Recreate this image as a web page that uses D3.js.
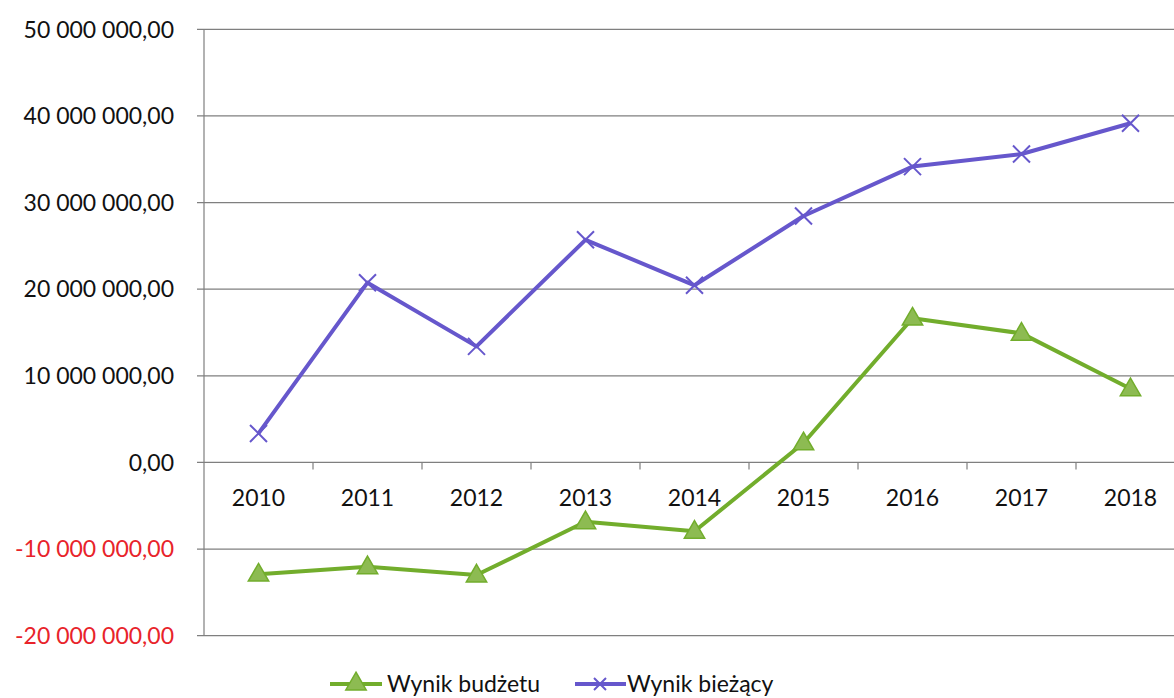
<!DOCTYPE html>
<html><head><meta charset="utf-8">
<script src="https://cdn.jsdelivr.net/npm/d3@7"></script>
<style>body{margin:0;background:#fff;} svg{display:block;}</style>
</head><body>
<svg id="c" width="1174" height="698"></svg>
<script>
const years = ["2010","2011","2012","2013","2014","2015","2016","2017","2018"];
const wynikBudzetu = [-12900000,-12050000,-13000000,-6850000,-7950000,2250000,16650000,14900000,8500000];
const wynikBiezacy = [3350000,20750000,13400000,25700000,20450000,28450000,34150000,35600000,39150000];
const yTicks = [-20000000,-10000000,0,10000000,20000000,30000000,40000000,50000000];
const seriesNames = ["Wynik budżetu","Wynik bieżący"];

const svg = d3.select("#c");
const font = "Lato, 'Open Sans', sans-serif";
const x = d3.scaleBand().domain(years).range([204,1185]);
const y = d3.scaleLinear().domain([-20000000,50000000]).range([635.7,29.3]);

const fmt = v => {
  if (v === 0) return "0,00";
  const s = Math.abs(v).toFixed(0).replace(/\B(?=(\d{3})+(?!\d))/g, " ");
  return (v<0?"-":"") + s + ",00";
};

// gridlines
svg.append("g").selectAll("line").data(yTicks).join("line")
  .attr("x1",197).attr("x2",1174)
  .attr("y1",d=>y(d)).attr("y2",d=>y(d))
  .attr("stroke","#7f7f7f").attr("stroke-width",1.2);

// y axis line
svg.append("line").attr("x1",204).attr("x2",204).attr("y1",y(50000000)).attr("y2",y(-20000000))
  .attr("stroke","#7f7f7f").attr("stroke-width",1.2);

// y labels
svg.append("g").selectAll("text").data(yTicks).join("text")
  .attr("x",174).attr("y",d=>y(d)).attr("dy","0.36em")
  .attr("text-anchor","end").attr("font-family",font).attr("font-size",23)
  .attr("fill",d=>d<0?"#e8232a":"#111").text(fmt);

// x ticks on zero line
const bounds = years.map(d=>x(d)).concat([x.range()[1]]);
svg.append("g").selectAll("line").data(bounds.slice(1)).join("line")
  .attr("x1",d=>d).attr("x2",d=>d).attr("y1",y(0)).attr("y2",y(0)+7)
  .attr("stroke","#7f7f7f").attr("stroke-width",1.2);

// x labels
svg.append("g").selectAll("text").data(years).join("text")
  .attr("x",d=>x(d)+x.bandwidth()/2).attr("y",498).attr("dy","0.36em")
  .attr("text-anchor","middle").attr("font-family",font).attr("font-size",23)
  .attr("fill","#111").text(d=>d);

const cx = d => x(d)+x.bandwidth()/2;
const line = d3.line().x((d,i)=>cx(years[i])).y(d=>y(d));

const green = "#72ad2c", greenFill = "#8dbb52", purple = "#6657cc";

// purple series
svg.append("path").datum(wynikBiezacy).attr("d",line).attr("fill","none")
  .attr("stroke",purple).attr("stroke-width",4).attr("stroke-linejoin","round");
const xMark = (g, px, py, s) => {
  g.append("path").attr("d",`M${px-s},${py-s}L${px+s},${py+s}M${px-s},${py+s}L${px+s},${py-s}`)
    .attr("stroke",purple).attr("stroke-width",2).attr("fill","none");
};
const gx = svg.append("g");
wynikBiezacy.forEach((v,i)=>xMark(gx, cx(years[i]), y(v), 8.5));

// green series
svg.append("path").datum(wynikBudzetu).attr("d",line).attr("fill","none")
  .attr("stroke",green).attr("stroke-width",4).attr("stroke-linejoin","round");
const tri = d3.symbol().type(d3.symbolTriangle).size(180);
svg.append("g").selectAll("path").data(wynikBudzetu).join("path")
  .attr("d",tri).attr("transform",(d,i)=>`translate(${cx(years[i])},${y(d)+1})`)
  .attr("fill",greenFill).attr("stroke",green).attr("stroke-width",1.5);

// legend
const ly = 684;
const lg = svg.append("g");
lg.append("line").attr("x1",330).attr("x2",382).attr("y1",ly).attr("y2",ly).attr("stroke",green).attr("stroke-width",4);
lg.append("path").attr("d",tri).attr("transform",`translate(356,${ly})`).attr("fill",greenFill).attr("stroke",green).attr("stroke-width",1.5);
lg.append("text").attr("x",387).attr("y",ly).attr("dy","0.36em").attr("font-family",font).attr("font-size",23).attr("fill","#111").text(seriesNames[0]);
lg.append("line").attr("x1",575).attr("x2",626).attr("y1",ly).attr("y2",ly).attr("stroke",purple).attr("stroke-width",4);
xMark(lg, 600, ly, 6);
lg.append("text").attr("x",627).attr("y",ly).attr("dy","0.36em").attr("font-family",font).attr("font-size",23).attr("fill","#111").text(seriesNames[1]);
</script>
</body></html>
